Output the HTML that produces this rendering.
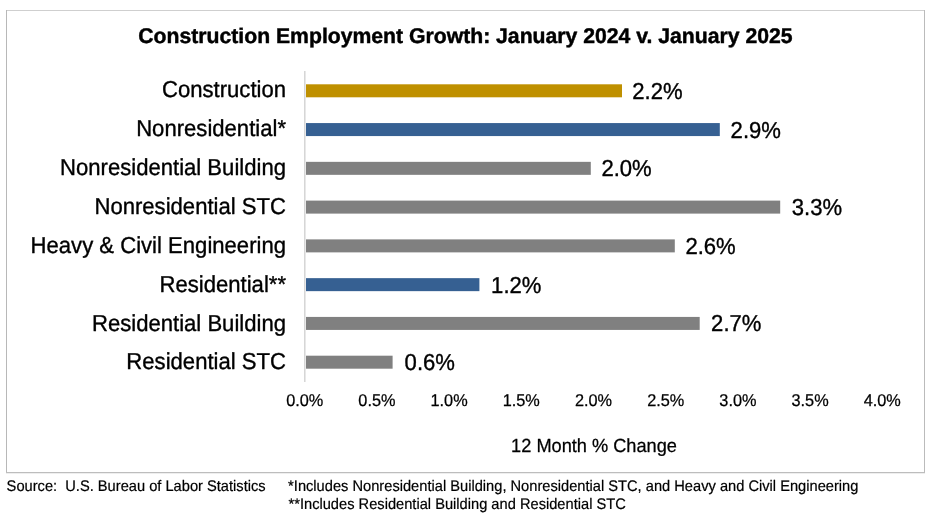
<!DOCTYPE html>
<html><head><meta charset="utf-8"><title>Construction Employment Growth</title><style>
html,body{margin:0;padding:0;background:#fff;}
body{width:936px;height:515px;overflow:hidden;position:relative;}
svg{will-change:transform;position:absolute;left:0;top:0;display:block;}
text{text-rendering:geometricPrecision;white-space:pre;font-family:"Liberation Sans",Arial,sans-serif;fill:#000;}
.ti{font-weight:bold;font-size:21.2px;stroke:#000;stroke-width:0.45px;stroke-linejoin:round;}
.c{font-size:22.1px;stroke:#000;stroke-width:0.35px;stroke-linejoin:round;}
.t{font-size:16.3px;stroke:#000;stroke-width:0.25px;stroke-linejoin:round;}
.ax{font-size:18.2px;stroke:#000;stroke-width:0.25px;stroke-linejoin:round;}
.f{font-size:14.667px;stroke:#000;stroke-width:0.2px;stroke-linejoin:round;}
</style></head><body>
<svg width="936" height="515" viewBox="0 0 936 515">
<rect x="0" y="0" width="936" height="515" fill="#fff"/>
<rect x="6" y="10" width="919" height="1" fill="#CFCFCF"/>
<rect x="6" y="10" width="1" height="463" fill="#B8B8B8"/>
<rect x="924" y="10" width="1" height="463" fill="#BBBBBB"/>
<rect x="6" y="472" width="919" height="1" fill="#BDBDBD"/>
<rect x="6" y="473" width="919" height="1" fill="#EEEEEE"/>
<text transform="translate(465.40 43.40) scale(1 1.0)" class="ti" text-anchor="middle">Construction Employment Growth: January 2024 v. January 2025</text>
<rect x="306" y="84.30" width="316.00" height="13.0" fill="#BF9000"/>
<text transform="translate(286.00 97.22) scale(1 1.045)" class="c" text-anchor="end">Construction</text>
<text transform="translate(632.30 98.92) scale(1 1.045)" class="c">2.2%</text>
<rect x="306" y="123.07" width="413.80" height="13.0" fill="#366092"/>
<text transform="translate(286.00 136.10) scale(1 1.045)" class="c" text-anchor="end">Nonresidential*</text>
<text transform="translate(730.60 137.64) scale(1 1.045)" class="c">2.9%</text>
<rect x="306" y="161.84" width="284.80" height="13.0" fill="#808080"/>
<text transform="translate(286.00 174.99) scale(1 1.045)" class="c" text-anchor="end">Nonresidential Building</text>
<text transform="translate(601.40 176.36) scale(1 1.045)" class="c">2.0%</text>
<rect x="306" y="200.61" width="474.20" height="13.0" fill="#808080"/>
<text transform="translate(286.00 213.88) scale(1 1.045)" class="c" text-anchor="end">Nonresidential STC</text>
<text transform="translate(791.70 215.08) scale(1 1.045)" class="c">3.3%</text>
<rect x="306" y="239.38" width="368.80" height="13.0" fill="#808080"/>
<text transform="translate(286.00 252.76) scale(1 1.045)" class="c" text-anchor="end">Heavy &amp; Civil Engineering</text>
<text transform="translate(685.40 253.80) scale(1 1.045)" class="c">2.6%</text>
<rect x="306" y="278.15" width="173.40" height="13.0" fill="#366092"/>
<text transform="translate(286.00 291.64) scale(1 1.045)" class="c" text-anchor="end">Residential**</text>
<text transform="translate(491.10 292.52) scale(1 1.045)" class="c">1.2%</text>
<rect x="306" y="316.92" width="393.70" height="13.0" fill="#808080"/>
<text transform="translate(286.00 330.53) scale(1 1.045)" class="c" text-anchor="end">Residential Building</text>
<text transform="translate(711.10 331.24) scale(1 1.045)" class="c">2.7%</text>
<rect x="306" y="355.69" width="86.60" height="13.0" fill="#808080"/>
<text transform="translate(286.00 369.41) scale(1 1.045)" class="c" text-anchor="end">Residential STC</text>
<text transform="translate(404.60 369.96) scale(1 1.045)" class="c">0.6%</text>
<rect x="304" y="71" width="1" height="311" fill="#D6D6D6"/>
<rect x="305" y="71" width="1" height="311" fill="#E8E8E8"/>
<text transform="translate(304.70 406.20) scale(1 1.045)" class="t" text-anchor="middle">0.0%</text>
<text transform="translate(376.90 406.20) scale(1 1.045)" class="t" text-anchor="middle">0.5%</text>
<text transform="translate(449.10 406.20) scale(1 1.045)" class="t" text-anchor="middle">1.0%</text>
<text transform="translate(521.30 406.20) scale(1 1.045)" class="t" text-anchor="middle">1.5%</text>
<text transform="translate(593.50 406.20) scale(1 1.045)" class="t" text-anchor="middle">2.0%</text>
<text transform="translate(665.70 406.20) scale(1 1.045)" class="t" text-anchor="middle">2.5%</text>
<text transform="translate(737.90 406.20) scale(1 1.045)" class="t" text-anchor="middle">3.0%</text>
<text transform="translate(810.10 406.20) scale(1 1.045)" class="t" text-anchor="middle">3.5%</text>
<text transform="translate(882.30 406.20) scale(1 1.045)" class="t" text-anchor="middle">4.0%</text>
<text transform="translate(594.00 452.00) scale(1 1.045)" class="ax" text-anchor="middle">12 Month % Change</text>
<text transform="translate(6.60 490.60) scale(1 1.045)" class="f">Source:  U.S. Bureau of Labor Statistics</text>
<text transform="translate(288.10 490.60) scale(1 1.045)" class="f">*Includes Nonresidential Building, Nonresidential STC, and Heavy and Civil Engineering</text>
<text transform="translate(288.50 509.00) scale(1 1.045)" class="f">**Includes Residential Building and Residential STC</text>
</svg>
</body></html>
